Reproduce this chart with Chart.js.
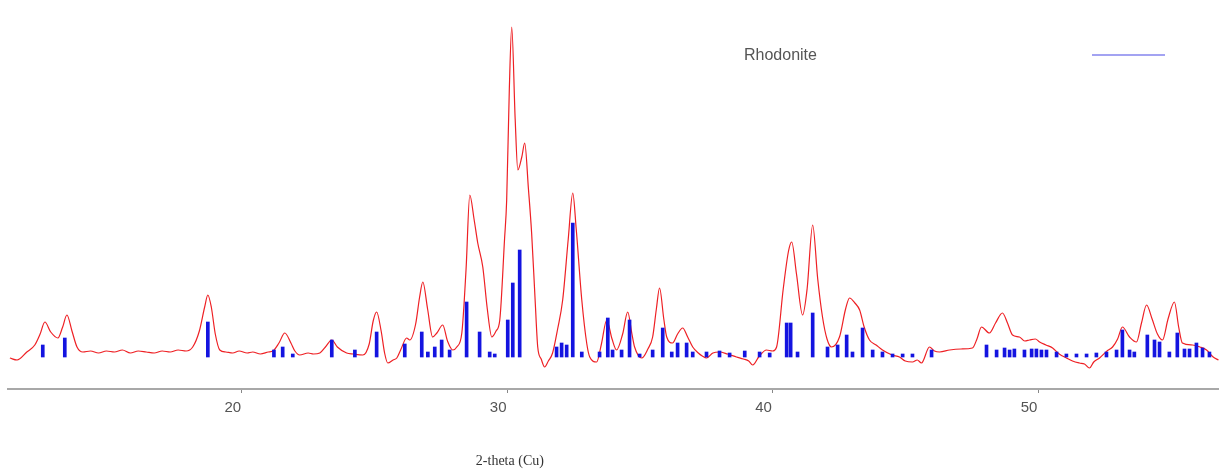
<!DOCTYPE html>
<html>
<head>
<meta charset="utf-8">
<script src="https://cdn.jsdelivr.net/npm/chart.js@4"></script>
<style>
  html, body { margin: 0; padding: 0; background: #fff; }
  #wrap { width: 1219px; height: 469px; }
</style>
</head>
<body>
<div id="wrap"><canvas id="xrd"></canvas></div>
<script>
// observed pattern: 2-theta (deg) and counts
var twoTheta = [11.26, 11.53, 11.9, 12.2, 12.4, 12.58, 12.8, 13.07, 13.25, 13.41, 13.6, 13.79, 14.01,
  14.3, 14.6, 14.9, 15.2, 15.5, 15.8, 16.1, 16.4, 16.7, 17.0, 17.3, 17.6, 17.9, 18.15, 18.4, 18.6,
  18.72, 18.85, 19.0, 19.17, 19.4, 19.66, 19.9, 20.2, 20.41, 20.7, 21.0, 21.17, 21.4, 21.62, 21.85,
  22.0, 22.18, 22.5, 22.7, 22.94, 23.15, 23.39, 23.6, 23.95, 24.2, 24.56, 24.8, 24.95, 25.08, 25.25,
  25.38, 25.5, 25.7, 25.84, 26.0, 26.21, 26.33, 26.55, 26.7, 26.82, 27.0, 27.19, 27.35, 27.57, 27.75,
  27.95, 28.1, 28.29, 28.45, 28.59, 28.75, 28.89, 29.08, 29.25, 29.42, 29.58, 29.72, 29.9, 29.98,
  30.08, 30.17, 30.3, 30.4, 30.55, 30.66, 30.8, 30.92, 31.05, 31.15, 31.28, 31.41, 31.55, 31.71,
  31.9, 32.09, 32.3, 32.47, 32.6, 32.81, 33.0, 33.11, 33.37, 33.55, 33.75, 33.95, 34.12, 34.35, 34.54,
  34.7, 34.8, 35.07, 35.3, 35.48, 35.62, 35.74, 35.9, 36.01, 36.23, 36.42, 36.61, 36.8, 36.99, 37.2,
  37.35, 37.51, 37.75, 38.0, 38.3, 38.64, 38.9, 39.1, 39.25, 39.5, 39.77, 40.0, 40.15, 40.4, 40.6,
  40.72, 40.9, 41.13, 41.3, 41.51, 41.7, 41.88, 42.05, 42.22, 42.52, 42.75, 42.9, 43.1, 43.28, 43.45,
  43.65, 43.9, 44.14, 44.5, 44.78, 45.0, 45.27, 45.45, 45.61, 45.91, 46.1, 46.29, 46.67, 47.1, 47.53,
  47.7, 47.87, 48.17, 48.4, 48.66, 48.85, 49.04, 49.3, 49.5, 49.68, 49.9, 50.06, 50.3, 50.55, 50.8,
  51.07, 51.3, 51.56, 51.75, 51.94, 52.1, 52.32, 52.6, 52.81, 53.0, 53.18, 53.45, 53.71, 53.9, 54.09,
  54.3, 54.5, 54.69, 54.9, 55.14, 55.3, 55.44, 55.82, 56.1, 56.35, 56.6, 56.8];
var counts = [31, 29, 37, 44, 55, 67, 57, 51, 62, 74, 58, 42, 37,
  38, 36, 38, 37, 39, 36, 38, 37, 36, 38, 37, 39, 38, 42, 58, 82,
  94, 82, 55, 39, 37, 36, 38, 36, 37, 35, 37, 38, 46, 56, 46,
  38, 34, 36, 35, 36, 42, 49, 42, 36, 35, 34, 45, 68, 77, 58,
  36, 26, 29, 31, 40, 51, 49, 65, 92, 107, 80, 52, 56, 64, 48,
  39, 42, 56, 120, 194, 170, 146, 122, 80, 52, 58, 69, 150, 189,
  300, 362, 270, 219, 232, 246, 200, 156, 90, 42, 30, 22, 28, 36,
  60, 89, 150, 196, 160, 89, 45, 32, 27, 45, 69, 50, 39, 55, 77,
  55, 42, 31, 40, 52, 80, 101, 70, 52, 46, 55, 61, 52, 42, 36,
  33, 31, 36, 37, 35, 32, 30, 28, 24, 33, 39, 38, 42, 100, 138,
  147, 115, 74, 100, 164, 110, 72, 50, 42, 52, 80, 91, 86, 79, 62,
  49, 44, 39, 34, 32, 28, 27, 29, 26, 42, 38, 37, 39, 40, 41,
  50, 62, 56, 66, 76, 66, 54, 52, 48, 49, 50, 47, 44, 41, 35,
  31, 28, 26, 25, 21, 27, 31, 38, 42, 50, 62, 52, 47, 66, 84,
  70, 55, 49, 70, 87, 62, 46, 44, 42, 39, 32, 29];

// Rhodonite reference sticks
var stickBase = 32;
var stickPos = [12.5, 13.33, 18.72, 21.21, 21.54, 21.92, 23.39, 24.26, 25.08, 26.14, 26.78, 27.01,
  27.27, 27.53, 27.83, 28.47, 28.96, 29.34, 29.53, 30.02, 30.21, 30.47, 31.86, 32.05, 32.24, 32.47,
  32.81, 33.48, 33.79, 33.97, 34.31, 34.61, 34.99, 35.48, 35.86, 36.2, 36.42, 36.76, 36.99, 37.51,
  38.0, 38.38, 38.95, 39.51, 39.89, 40.53, 40.68, 40.94, 41.51, 42.07, 42.45, 42.79, 43.01, 43.39,
  43.77, 44.14, 44.52, 44.9, 45.27, 45.99, 48.06, 48.44, 48.74, 48.93, 49.11, 49.49, 49.76, 49.94,
  50.13, 50.32, 50.7, 51.07, 51.45, 51.83, 52.2, 52.58, 52.96, 53.18, 53.45, 53.63, 54.12, 54.39,
  54.58, 54.95, 55.25, 55.52, 55.71, 55.97, 56.2, 56.46];
var stickTop = [44, 51, 67, 39, 42, 35, 49, 39, 57, 45, 57, 37,
  42, 49, 39, 87, 57, 37, 35, 69, 106, 139, 42, 46, 44, 166,
  37, 37, 71, 39, 39, 69, 35, 39, 61, 37, 46, 46, 37, 37,
  38, 36, 38, 37, 36, 66, 66, 37, 76, 42, 44, 54, 37, 61,
  39, 37, 35, 35, 35, 39, 44, 39, 41, 39, 40, 39, 40, 40,
  39, 39, 37, 35, 35, 35, 36, 37, 39, 59, 39, 37, 54, 49,
  47, 37, 56, 40, 40, 46, 41, 37];

var xTickValues = [20, 30, 40, 50];
var xTitle = '2-theta (Cu)';

var overlay = {
  id: 'overlay',
  afterDraw: function(chart) {
    var ctx = chart.ctx;
    var x = chart.scales.x;
    ctx.save();
    // legend
    ctx.font = '16px "Liberation Sans", Arial, sans-serif';
    ctx.fillStyle = '#555';
    ctx.textBaseline = 'middle';
    ctx.textAlign = 'left';
    ctx.fillText(chart.data.datasets[1].label, 744, 56);
    ctx.strokeStyle = '#8585ee';
    ctx.lineWidth = 1.5;
    ctx.beginPath();
    ctx.moveTo(1092, 55);
    ctx.lineTo(1165, 55);
    ctx.stroke();
    // axis title
    ctx.font = '14px "Liberation Serif", serif';
    ctx.fillStyle = '#333';
    ctx.textAlign = 'center';
    ctx.fillText(xTitle, x.getPixelForValue(30.1), 461);
    ctx.restore();
  }
};

new Chart(document.getElementById('xrd'), {
  type: 'line',
  data: {
    datasets: [{
      type: 'line',
      label: 'Observed',
      data: twoTheta.map(function(t, i) { return { x: t, y: counts[i] }; }),
      borderColor: 'rgb(238,32,36)',
      borderWidth: 1.2,
      pointRadius: 0,
      cubicInterpolationMode: 'monotone',
      order: 2
    }, {
      type: 'bar',
      label: 'Rhodonite',
      data: stickPos.map(function(t, i) { return { x: t, y: [stickBase, stickTop[i]] }; }),
      backgroundColor: '#1414e0',
      barThickness: 3,
      grouped: false,
      order: 1
    }]
  },
  options: {
    responsive: true,
    maintainAspectRatio: false,
    animation: false,
    layout: { padding: { left: 8, right: 0, top: 0, bottom: 0 } },
    plugins: { legend: { display: false }, tooltip: { enabled: false } },
    scales: {
      x: {
        type: 'linear',
        min: 11.19,
        max: 56.82,
        offset: false,
        afterBuildTicks: function(scale) {
          scale.ticks = xTickValues.map(function(v) { return { value: v }; });
        },
        afterFit: function(scale) { scale.height = 80; },
        grid: { offset: false, drawOnChartArea: false, color: '#888', tickLength: 4 },
        border: { display: true, color: '#a8a8a8', width: 2 },
        ticks: {
          color: '#555',
          padding: 6,
          labelOffset: -9,
          maxRotation: 0,
          font: { family: '"Liberation Sans", Arial, sans-serif', size: 15 }
        }
      },
      y: {
        display: false,
        min: 0,
        max: 389
      }
    }
  },
  plugins: [overlay]
});
</script>
</body>
</html>
